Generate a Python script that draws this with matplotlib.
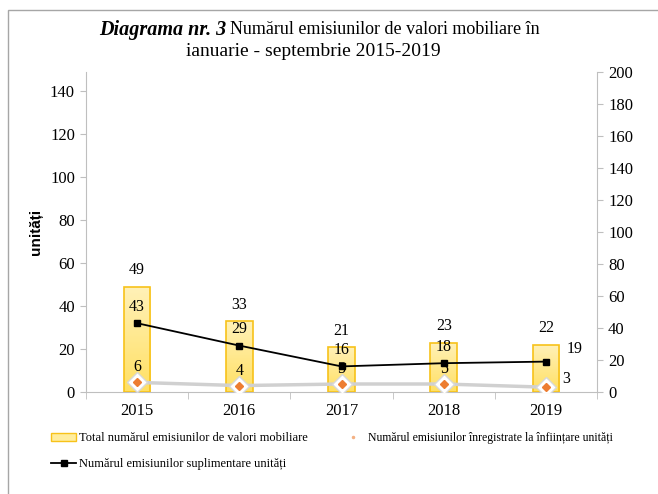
import numpy as np
import matplotlib
matplotlib.use("Agg")
import matplotlib.pyplot as plt
from matplotlib.colors import LinearSegmentedColormap
from matplotlib.lines import Line2D
from matplotlib.patches import Patch, Rectangle

plt.rcParams['font.family'] = ['Liberation Serif', 'DejaVu Serif']

# data
years = ["2015", "2016", "2017", "2018", "2019"]
total = [49, 33, 21, 23, 22]            # bars, left axis
suplimentare = [43, 29, 16, 18, 19]     # black line, right axis
infiintare = [6, 4, 5, 5, 3]            # gray line, right axis

x = np.arange(len(years))

fig = plt.figure(figsize=(6.58, 4.94), dpi=100)
ax = fig.add_axes([86 / 658, 1 - 392 / 494, (597 - 86) / 658, (392 - 72) / 494])
ax2 = ax.twinx()

# bars with vertical gradient (stronger yellow at the bottom)
grad = LinearSegmentedColormap.from_list("yel", ["#FFE063", "#FFF1B8"])
bars = ax.bar(x, total, width=0.26, facecolor="none", edgecolor="#F7C21A", linewidth=1.2, zorder=3)
for b in bars:
    bx, by = b.get_x(), b.get_y()
    img = ax.imshow(np.linspace(0, 1, 100).reshape(-1, 1), cmap=grad, origin="lower",
                    extent=[bx, bx + b.get_width(), by, by + b.get_height()],
                    aspect="auto", zorder=2)
    img.set_clip_path(b)
for xi, v in zip(x, total):
    ax.annotate(str(v), (xi, v), xytext=(0, 6), textcoords="offset points",
                ha="center", va="bottom", fontsize=11.5, zorder=6)

ax.set_xlim(-0.5, len(years) - 0.5)
ax.set_ylim(0, 149)
ax.set_yticks(range(0, 141, 20))
ax.set_xticks(x)
ax.set_xticklabels(years)
ax.set_xticks(np.arange(-0.5, len(years)), minor=True)
ax.tick_params(axis="x", which="major", length=0, labelsize=12, pad=8)
ax.tick_params(axis="x", which="minor", length=5, color="#BFBFBF")
ax.tick_params(axis="y", length=4, color="#BFBFBF", labelsize=12, pad=4)
ax.set_ylabel("unități", fontsize=11, fontweight="bold", family=["Liberation Sans", "DejaVu Sans"], labelpad=5)

# lines on secondary axis
ax2.set_ylim(0, 200)
ax2.set_yticks(range(0, 201, 20))
ax2.tick_params(axis="y", length=4, color="#BFBFBF", labelsize=12, pad=4)

ax2.plot(x, infiintare, color="#D0D0D0", linewidth=2.5, zorder=2)
ax2.plot(x, infiintare, linestyle="none", marker="D", markersize=10,
         markerfacecolor="white", markeredgecolor="#D8D8D8", markeredgewidth=1, zorder=3)
ax2.plot(x, infiintare, linestyle="none", marker="D", markersize=4,
         color="#ED7D31", zorder=4)
for i, v in enumerate(infiintare):
    if i == len(infiintare) - 1:
        ax2.annotate(str(v), (x[i], v), xytext=(12, 0), textcoords="offset points",
                     ha="left", va="bottom", fontsize=11.5, zorder=1)
    else:
        ax2.annotate(str(v), (x[i], v), xytext=(0, 5), textcoords="offset points",
                     ha="center", va="bottom", fontsize=11.5, zorder=1)

ax2.plot(x, suplimentare, color="black", linewidth=1.3, marker="s", markersize=5, zorder=5)
for i, v in enumerate(suplimentare):
    if i == len(suplimentare) - 1:
        ax2.annotate(str(v), (x[i], v), xytext=(15, 3), textcoords="offset points",
                     ha="left", va="bottom", fontsize=11.5, zorder=6)
    else:
        ax2.annotate(str(v), (x[i], v), xytext=(0, 6), textcoords="offset points",
                     ha="center", va="bottom", fontsize=11.5, zorder=6)

for a in (ax, ax2):
    a.spines["top"].set_visible(False)
    for s in ("left", "right", "bottom"):
        a.spines[s].set_color("#BFBFBF")
ax2.spines["left"].set_visible(False)
ax.spines["right"].set_visible(False)
ax2.spines["bottom"].set_visible(False)
ax.set_zorder(ax2.get_zorder() - 1)
ax.patch.set_visible(False)

# title
fig.text(226 / 658, 1 - 30 / 494, "Diagrama nr. 3", ha="right", va="center", fontsize=14.5,
         fontweight="bold", fontstyle="italic")
fig.text(230 / 658, 1 - 30 / 494, "Numărul emisiunilor de valori mobiliare în", ha="left",
         va="center", fontsize=13)
fig.text(313 / 658, 1 - 52 / 494, "ianuarie - septembrie 2015-2019", ha="center", va="center",
         fontsize=14)

# legend
handles = [
    Patch(facecolor="#FFED9E", edgecolor="#F7C21A"),
    Line2D([], [], color="black", linewidth=1.3, marker="s", markersize=4),
    Line2D([], [], color="white", marker="o", markersize=1.5, markerfacecolor="#F4B183",
           markeredgecolor="#F4B183", linewidth=0),
]
labels = [
    "Total numărul emisiunilor de valori mobiliare",
    "Numărul emisiunilor suplimentare unități",
    "Numărul emisiunilor înregistrate la înființare unități",
]
leg = fig.legend(handles, labels, loc="upper left", bbox_to_anchor=(40 / 658, 1 - 421 / 494),
                 ncol=2, frameon=False, fontsize=9, handlelength=2.0, handletextpad=0.2,
                 columnspacing=2.6, labelspacing=1.1)
leg.get_texts()[2].set_fontsize(8.5)

# outer frame
fig.patches.append(Rectangle((8 / 658, -0.1), 1.2, 1.1 - 10 / 494,
                             transform=fig.transFigure, fill=False,
                             edgecolor="#A6A6A6", linewidth=1))

fig.savefig("out.png", dpi=100)
